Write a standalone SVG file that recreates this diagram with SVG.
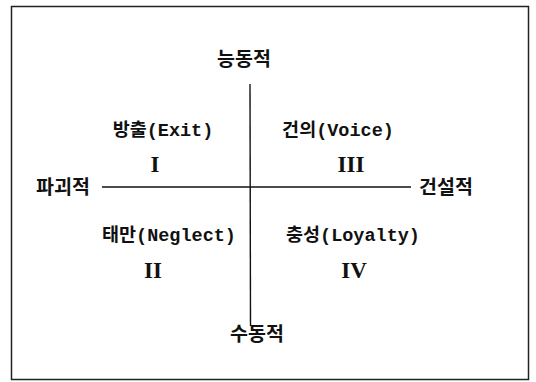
<svg xmlns="http://www.w3.org/2000/svg" width="536" height="382" viewBox="0 0 536 382">
<style>
.axis{font-family:"Noto Sans CJK KR","Noto Sans",sans-serif;font-size:19.5px;font-weight:700;fill:#111;text-anchor:middle}
.lbl{font-family:"Liberation Mono","Noto Sans CJK KR",monospace;font-size:18.5px;font-weight:700;fill:#111;text-anchor:middle}
.num{font-family:"Liberation Serif",serif;font-size:23px;font-weight:700;fill:#111;text-anchor:middle}
.ln{stroke:#111;stroke-width:1.4;fill:none}
</style>
<rect x="11.5" y="6.5" width="517" height="373" fill="#fff" stroke="#222" stroke-width="1.5"/>
<g id="connectors">
<line class="ln" x1="250" y1="84" x2="250.5" y2="326"/>
<line class="ln" x1="102" y1="187" x2="411" y2="187"/>
</g>
<g id="top"><text class="axis" x="244" y="66">능동적</text></g>
<g id="bottom"><text class="axis" x="257" y="341">수동적</text></g>
<g id="left"><text class="axis" x="63" y="194">파괴적</text></g>
<g id="right"><text class="axis" x="446" y="194">건설적</text></g>
<g id="q1"><text class="lbl" x="163" y="136">방출(Exit)</text><text class="num" x="155" y="172">I</text></g>
<g id="q3"><text class="lbl" x="338" y="136">건의(Voice)</text><text class="num" x="351" y="172">III</text></g>
<g id="q2"><text class="lbl" x="169" y="241">태만(Neglect)</text><text class="num" x="153" y="278">II</text></g>
<g id="q4"><text class="lbl" x="353" y="241">충성(Loyalty)</text><text class="num" x="354" y="278">IV</text></g>
</svg>
